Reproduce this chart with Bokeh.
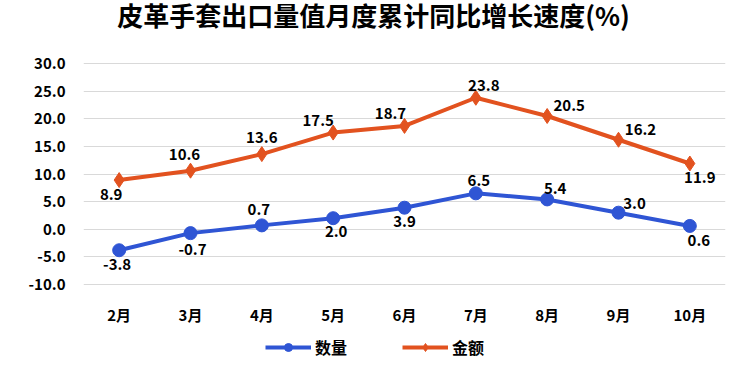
from bokeh.plotting import figure
from bokeh.models import ColumnDataSource, Range1d, Legend, LegendItem, FixedTicker, NumeralTickFormatter, LabelSet
from bokeh.core.properties import value
from bokeh.embed import file_html
from bokeh.resources import INLINE

title_text = "皮革手套出口量值月度累计同比增长速度(%)"
months = ["2月", "3月", "4月", "5月", "6月", "7月", "8月", "9月", "10月"]
quantity = [-3.8, -0.7, 0.7, 2.0, 3.9, 6.5, 5.4, 3.0, 0.6]
amount = [8.9, 10.6, 13.6, 17.5, 18.7, 23.8, 20.5, 16.2, 11.9]
y_ticks = [-10, -5, 0, 5, 10, 15, 20, 25, 30]

# label offsets (style)
q_dx = [-2, 2, -3, 3, 0, 3, 8, 16, 9]
q_dy = [-14, -16, 16, -13, -14, 13, 11, 9, -15]
a_dx = [-8, -6, 0, -15, -14, 8, 22, 22, 10]
a_dy = [-14, 16, 17, 12, 12, 12, 10, 10, -14]

BLUE = "#2F55D4"
ORANGE = "#E2521F"
FONT = "Noto Sans CJK SC"

Y_MIN, Y_MAX = y_ticks[0], y_ticks[-1]
PX_PER_UNIT = 221 / (Y_MAX - Y_MIN)
TOP_ROOM, BOTTOM_ROOM = 63, 79   # px for title (above) and category labels + legend (below)
FRAME_H = 221 + TOP_ROOM + BOTTOM_ROOM
y_top = Y_MAX + TOP_ROOM / PX_PER_UNIT
y_bottom = Y_MIN - BOTTOM_ROOM / PX_PER_UNIT

p = figure(frame_width=642, frame_height=FRAME_H, x_range=months, y_range=Range1d(y_bottom, y_top),
           output_backend="svg", toolbar_location=None,
           min_border_left=83, min_border_right=9, min_border_top=0, min_border_bottom=0)
p.outline_line_color = None
p.background_fill_color = "white"

src_title = ColumnDataSource(dict(x=[months[4]], y=[y_top], lab=[title_text]))
p.add_layout(LabelSet(x="x", y="y", text="lab", source=src_title, x_offset=-31, y_offset=-14,
                      text_align="center", text_baseline="middle",
                      text_font=value(FONT), text_font_size=value("26px"), text_font_style=value("bold"),
                      text_color=value("#000000")))

src_q = ColumnDataSource(dict(x=months, y=quantity, lab=[f"{v:.1f}" for v in quantity], dx=q_dx, dy=q_dy))
src_a = ColumnDataSource(dict(x=months, y=amount, lab=[f"{v:.1f}" for v in amount], dx=a_dx, dy=a_dy))

lq = p.line("x", "y", source=src_q, line_color=BLUE, line_width=4)
mq = p.scatter("x", "y", source=src_q, marker="circle", size=13, fill_color=BLUE, line_color=BLUE)
la = p.line("x", "y", source=src_a, line_color=ORANGE, line_width=4)
ma = p.scatter("x", "y", source=src_a, marker="diamond", size=15, fill_color=ORANGE, line_color=ORANGE)

for src in (src_q, src_a):
    labels = LabelSet(x="x", y="y", text="lab", source=src, x_offset="dx", y_offset="dy",
                      text_align="center", text_baseline="middle",
                      text_font=value(FONT), text_font_size=value("15px"), text_font_style=value("bold"),
                      text_color=value("#000000"))
    p.add_layout(labels)

# category labels under the value range
src_cat = ColumnDataSource(dict(x=months, y=[Y_MIN] * len(months), lab=months))
p.add_layout(LabelSet(x="x", y="y", text="lab", source=src_cat, y_offset=-30,
                      text_align="center", text_baseline="middle",
                      text_font=value(FONT), text_font_size=value("15px"), text_font_style=value("bold"),
                      text_color=value("#000000")))

p.xaxis.visible = False
p.xgrid.grid_line_color = None
p.ygrid.grid_line_color = "#D9D9D9"
p.ygrid.grid_line_width = 1
p.yaxis.ticker = FixedTicker(ticks=y_ticks)
p.yaxis.formatter = NumeralTickFormatter(format="0.0")
ax = p.yaxis
ax.axis_line_color = None
ax.major_tick_line_color = None
ax.minor_tick_line_color = None
ax.major_tick_out = 0
ax.major_tick_in = 0
ax.major_label_text_font = FONT
ax.major_label_text_font_size = "15px"
ax.major_label_text_font_style = "bold"
ax.major_label_text_color = "#000000"
ax.major_label_standoff = 18

legend = Legend(items=[LegendItem(label="数量", renderers=[lq, mq]),
                       LegendItem(label="金额", renderers=[la, ma])],
                orientation="horizontal", location=(182, 4),
                label_text_font=FONT, label_text_font_size="16px", label_text_font_style="bold",
                label_text_color="#000000", glyph_width=46, glyph_height=20, spacing=55, label_standoff=4,
                border_line_color=None, background_fill_alpha=0, margin=0, padding=2)
p.add_layout(legend, "center")

open("out.html", "w").write(file_html(p, INLINE))
